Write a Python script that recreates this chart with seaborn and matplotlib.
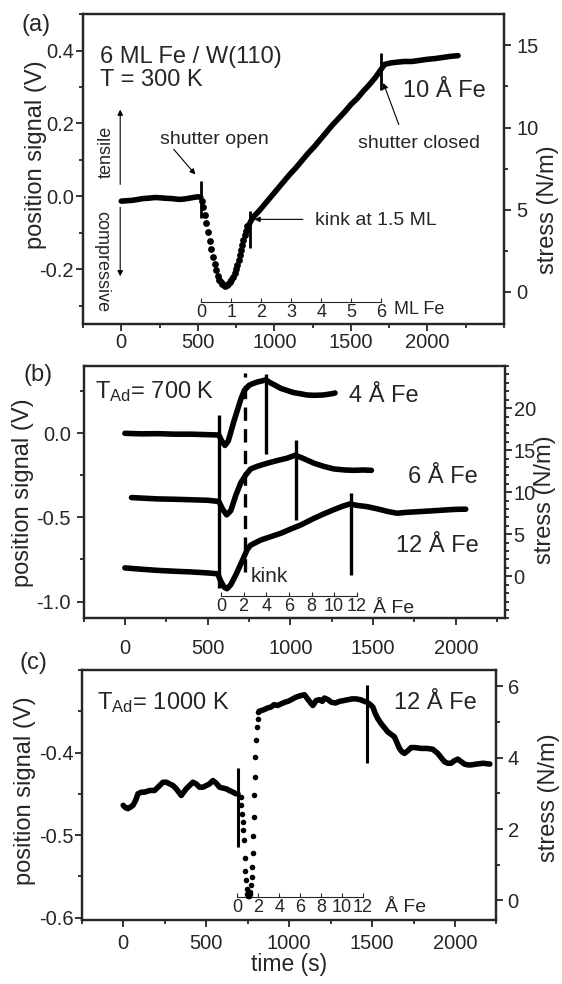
import matplotlib
matplotlib.use('Agg')
import matplotlib.pyplot as plt
import seaborn as sns
from matplotlib.ticker import MultipleLocator, FixedLocator

# ---- panel (a): 6 ML Fe / W(110), 300 K ----
a_t_pre = [0, 30, 67, 100, 140, 176, 220, 260, 285, 330, 370, 394, 430, 470, 502, 520]
a_v_pre = [-0.013, -0.012, -0.011, -0.009, -0.006, -0.005, -0.003, -0.004, -0.005, -0.006,
           -0.008, -0.008, -0.006, -0.003, -0.001, -0.003]
a_t_dip = [528, 536, 545, 555, 566, 577, 588, 599, 610, 620, 630, 640, 650, 660, 670, 680, 690,
           700, 710, 720, 730, 740, 750, 758, 766, 774, 782, 790, 798, 806, 814, 822]
a_v_dip = [-0.012, -0.030, -0.050, -0.073, -0.097, -0.121, -0.145, -0.167, -0.186, -0.203,
           -0.217, -0.228, -0.236, -0.241, -0.244, -0.245, -0.244, -0.241, -0.236, -0.229,
           -0.221, -0.211, -0.199, -0.188, -0.175, -0.162, -0.148, -0.134, -0.120, -0.107,
           -0.094, -0.082]
a_t_post = [826, 850, 870, 900, 940, 980, 1020, 1060, 1100, 1140, 1180, 1220, 1260, 1300, 1340,
            1380, 1420, 1460, 1500, 1540, 1580, 1620, 1660, 1700, 1720, 1760, 1800, 1850, 1900,
            1950, 2000, 2050, 2100, 2150, 2200]
a_v_post = [-0.085, -0.065, -0.053, -0.040, -0.020, 0.000, 0.020, 0.040, 0.060, 0.078, 0.098,
            0.118, 0.136, 0.156, 0.176, 0.196, 0.214, 0.232, 0.252, 0.268, 0.288, 0.306, 0.326,
            0.350, 0.362, 0.366, 0.368, 0.370, 0.370, 0.373, 0.376, 0.378, 0.381, 0.384, 0.386]
a_mark_t = [520, 840, 1698]
a_mark_top = [0.042, -0.040, 0.392]
a_mark_bot = [-0.058, -0.141, 0.293]
a_ml_ticks = [0, 1, 2, 3, 4, 5, 6]

# ---- panel (b): T_Ad = 700 K ----
b4_t = [0, 100, 200, 300, 400, 500, 568, 585, 605, 625, 660, 700, 722, 750, 772, 800, 830, 852,
        880, 910, 943, 980, 1020, 1063, 1100, 1144, 1200, 1254, 1270]
b4_v = [0.0, -0.003, -0.002, -0.005, -0.005, -0.008, -0.010, -0.045, -0.072, -0.045, 0.075,
        0.200, 0.255, 0.285, 0.295, 0.305, 0.312, 0.318, 0.300, 0.285, 0.267, 0.255, 0.242,
        0.235, 0.228, 0.226, 0.228, 0.236, 0.240]
b6_t = [40, 100, 200, 300, 400, 500, 568, 590, 615, 640, 670, 700, 730, 760, 800, 860, 920, 980,
        1030, 1080, 1144, 1200, 1264, 1330, 1385, 1440, 1490]
b6_v = [-0.382, -0.385, -0.390, -0.392, -0.395, -0.398, -0.405, -0.450, -0.485, -0.460, -0.370,
        -0.295, -0.248, -0.212, -0.196, -0.178, -0.162, -0.148, -0.130, -0.150, -0.178, -0.196,
        -0.212, -0.218, -0.220, -0.218, -0.220]
b12_t = [0, 100, 200, 300, 400, 500, 561, 580, 600, 617, 640, 671, 712, 740, 760, 790, 822, 880,
         943, 1000, 1063, 1144, 1200, 1260, 1320, 1360, 1400, 1465, 1530, 1590, 1646, 1700,
         1787, 1870, 1948, 2000, 2060]
b12_v = [-0.800, -0.808, -0.815, -0.820, -0.824, -0.830, -0.835, -0.880, -0.915, -0.924, -0.900,
         -0.841, -0.752, -0.690, -0.665, -0.650, -0.634, -0.615, -0.594, -0.570, -0.545, -0.505,
         -0.480, -0.455, -0.432, -0.420, -0.428, -0.436, -0.450, -0.465, -0.475, -0.470, -0.465,
         -0.460, -0.455, -0.452, -0.451]
b_mark_t = [568, 852, 1033, 1368]
b_mark_top = [0.109, 0.350, -0.040, -0.356]
b_mark_bot = [-0.920, -0.125, -0.515, -0.841]
b_dash_t = 728
b_dash_top, b_dash_bot = 0.358, -0.822
b_ang_ticks = [0, 2, 4, 6, 8, 10, 12]

# ---- panel (c): T_Ad = 1000 K ----
c_t_pre = [0, 15, 29, 45, 59, 75, 89, 110, 129, 160, 189, 215, 240, 260, 280, 300, 320, 335,
           350, 365, 380, 400, 420, 440, 460, 480, 501, 520, 541, 560, 581, 600, 621, 640, 661,
           680, 692]
c_v_pre = [-0.464, -0.467, -0.468, -0.466, -0.464, -0.458, -0.450, -0.448, -0.448, -0.446,
           -0.446, -0.441, -0.436, -0.436, -0.438, -0.440, -0.444, -0.448, -0.452, -0.448,
           -0.444, -0.440, -0.436, -0.438, -0.442, -0.442, -0.440, -0.438, -0.434, -0.437,
           -0.442, -0.443, -0.444, -0.446, -0.448, -0.450, -0.450]
c_t_dip = [708, 712, 716, 720, 724, 728, 732, 736, 740, 744, 748, 752, 756, 762, 767, 771, 775,
           778, 781, 784, 787, 790, 793, 796, 800, 805, 810, 815]
c_v_dip = [-0.454, -0.464, -0.474, -0.484, -0.494, -0.506, -0.528, -0.543, -0.555, -0.565,
           -0.571, -0.574, -0.574, -0.572, -0.569, -0.561, -0.551, -0.539, -0.522, -0.501,
           -0.478, -0.452, -0.430, -0.405, -0.385, -0.369, -0.359, -0.351]
c_t_post = [820, 835, 850, 870, 890, 910, 930, 952, 975, 993, 1013, 1040, 1070, 1093, 1115,
            1143, 1163, 1183, 1200, 1213, 1235, 1254, 1280, 1304, 1330, 1354, 1380, 1404, 1430,
            1454, 1470, 1490, 1505, 1520, 1535, 1555, 1575, 1595, 1615, 1635, 1650, 1665, 1680,
            1695, 1715, 1735, 1760, 1796, 1830, 1866, 1896, 1916, 1936, 1956, 1976, 1996, 2017,
            2037, 2057, 2077, 2097, 2130, 2170, 2210]
c_v_post = [-0.350, -0.349, -0.348, -0.346, -0.345, -0.342, -0.343, -0.341, -0.339, -0.338,
            -0.336, -0.333, -0.331, -0.330, -0.336, -0.343, -0.337, -0.336, -0.338, -0.334,
            -0.336, -0.339, -0.340, -0.338, -0.337, -0.336, -0.335, -0.335, -0.336, -0.338,
            -0.339, -0.342, -0.345, -0.353, -0.359, -0.365, -0.370, -0.375, -0.378, -0.381,
            -0.388, -0.395, -0.399, -0.401, -0.398, -0.394, -0.394, -0.395, -0.395, -0.396,
            -0.401, -0.406, -0.411, -0.413, -0.413, -0.410, -0.408, -0.411, -0.414, -0.415,
            -0.415, -0.414, -0.413, -0.414]
c_mark_t = [691, 1470]
c_mark_top = [-0.419, -0.318]
c_mark_bot = [-0.514, -0.413]
c_ang_ticks = [0, 2, 4, 6, 8, 10, 12]

sns.set_style('ticks')
plt.rcParams['font.family'] = ['Liberation Sans', 'DejaVu Sans']
plt.rcParams['mathtext.fontset'] = 'custom'
plt.rcParams['mathtext.rm'] = 'Liberation Sans'
plt.rcParams['mathtext.it'] = 'Liberation Sans:italic'
plt.rcParams['axes.unicode_minus'] = False
plt.rcParams['axes.linewidth'] = 1.6

fig = plt.figure(figsize=(5.62, 9.84), dpi=100)
ax_a = fig.add_axes([0.1477, 0.6707, 0.749, 0.315])
ax_b = fig.add_axes([0.1486, 0.3716, 0.7507, 0.2564])
ax_c = fig.add_axes([0.1454, 0.0650, 0.7380, 0.2541])

TICK = 14.5
BIG = 17
SMALL = 14


def style(ax, xlim, ylim, yticks, yminor, ylim2, yticks2, yminor2, xpad, lpad, rpad,
          lab_l, lab_r):
    ax.set_xlim(*xlim)
    ax.set_ylim(*ylim)
    ax.xaxis.set_major_locator(FixedLocator([0, 500, 1000, 1500, 2000]))
    ax.xaxis.set_minor_locator(MultipleLocator(250))
    ax.yaxis.set_major_locator(FixedLocator(yticks))
    ax.yaxis.set_minor_locator(MultipleLocator(yminor))
    ax.tick_params(which='both', direction='out', top=False, right=False, width=1.3,
                   labelsize=TICK)
    ax.tick_params(which='major', length=5)
    ax.tick_params(which='minor', length=3)
    ax.tick_params(axis='x', pad=xpad)
    ax.tick_params(axis='y', pad=lpad)
    ax.set_ylabel('position signal (V)', fontsize=17)
    ax.yaxis.set_label_coords(*lab_l)
    ax2 = ax.twinx()
    ax2.set_ylim(*ylim2)
    ax2.yaxis.set_major_locator(FixedLocator(yticks2))
    ax2.yaxis.set_minor_locator(MultipleLocator(yminor2))
    ax2.tick_params(which='both', direction='out', width=1.3, labelsize=TICK, pad=rpad)
    ax2.tick_params(which='major', length=5)
    ax2.tick_params(which='minor', length=3)
    ax2.set_ylabel('stress (N/m)', fontsize=17)
    ax2.yaxis.set_label_coords(*lab_r)
    for s in ax.spines.values():
        s.set_linewidth(1.6)
    return ax2


def thickness_axis(ax, loc, t0, rate, ticks, lo, hi):
    sec = ax.secondary_xaxis(loc, functions=(lambda t: (t - t0) / rate,
                                             lambda d: t0 + d * rate))
    sec.set_xticks(ticks)
    sec.tick_params(direction='in', length=3, width=0.8, pad=1.5, labelsize=13)
    sec.spines['bottom'].set_bounds(lo, hi)
    sec.spines['bottom'].set_linewidth(0.8)
    return sec


def trace(ax, t, v, lw=4.0):
    sns.lineplot(x=t, y=v, ax=ax, color='black', lw=lw, estimator=None,
                 solid_capstyle='round', solid_joinstyle='round')


def dots(ax, t, v, s=15):
    sns.scatterplot(x=t, y=v, ax=ax, color='black', s=s, linewidth=0)


# ---------- (a) ----------
style(ax_a, (-250, 2500), (-0.35, 0.5), [-0.2, 0.0, 0.2, 0.4], 0.1,
      (-1.95, 16.9), [0, 5, 10, 15], 2.5, 1.5, 1.5, 4,
      (-0.0855, 0.545), (1.078, 0.368))
trace(ax_a, a_t_pre, a_v_pre)
dots(ax_a, a_t_dip, a_v_dip, 24)
trace(ax_a, a_t_post, a_v_post)
ax_a.vlines(a_mark_t, a_mark_bot, a_mark_top, color='black', lw=2)
thickness_axis(ax_a, 0.0706, 522, 196, a_ml_ticks, 0, 6)

ax_a.text(0.040, 0.861, '6 ML Fe / W(110)', transform=ax_a.transAxes, fontsize=BIG, va='center')
ax_a.text(0.040, 0.787, 'T = 300 K', transform=ax_a.transAxes, fontsize=BIG, va='center')
ax_a.text(0.760, 0.752, '10 Å Fe', transform=ax_a.transAxes, fontsize=BIG, va='center')
ax_a.text(0.183, 0.594, 'shutter open', transform=ax_a.transAxes, fontsize=SMALL, va='center')
ax_a.text(0.653, 0.584, 'shutter closed', transform=ax_a.transAxes, fontsize=SMALL, va='center')
ax_a.text(0.551, 0.335, 'kink at 1.5 ML', transform=ax_a.transAxes, fontsize=SMALL, va='center')
ax_a.text(0.056, 0.555, 'tensile', transform=ax_a.transAxes, fontsize=13, rotation=90,
          ha='center', va='center')
ax_a.text(0.045, 0.203, 'compressive', transform=ax_a.transAxes, fontsize=13, rotation=270,
          ha='center', va='center')
ax_a.text(0.739, 0.019, 'ML Fe', transform=ax_a.transAxes, fontsize=13, va='bottom')

arr = dict(arrowstyle='-|>', lw=0.8, color='black', mutation_scale=8, shrinkA=0, shrinkB=0)
ax_a.annotate('', xy=(-7, 0.238), xytext=(-7, 0.033), arrowprops=arr)
ax_a.annotate('', xy=(-7, -0.219), xytext=(-7, -0.030), arrowprops=arr)
ax_a.annotate('', xy=(484, 0.060), xytext=(343, 0.129), arrowprops=arr)
ax_a.annotate('', xy=(1712, 0.311), xytext=(1813, 0.197), arrowprops=arr)
ax_a.annotate('', xy=(870, -0.063), xytext=(1186, -0.063), arrowprops=arr)

# ---------- (b) ----------
style(ax_b, (-250, 2300), (-1.1, 0.4), [-1.0, -0.5, 0.0], 0.25,
      (-5, 25), [0, 5, 10, 15, 20], 1, 10, 4, 1,
      (-0.117, 0.5), (1.068, 0.469))
trace(ax_b, b4_t, b4_v)
trace(ax_b, b6_t, b6_v)
trace(ax_b, b12_t, b12_v)
ax_b.vlines(b_mark_t, b_mark_bot, b_mark_top, color='black', lw=2.4)
ax_b.vlines([b_dash_t], [b_dash_bot], [b_dash_top], color='black', lw=2.4,
            linestyles=(0, (4, 2.5)))
thickness_axis(ax_b, 0.089, 580, 68.5, b_ang_ticks, 0, 12)

ax_b.text(0.027, 0.873, r'T$_{\rm Ad}$= 700 K', transform=ax_b.transAxes, fontsize=BIG,
          va='baseline')
ax_b.text(0.629, 0.859, '4 Å Fe', transform=ax_b.transAxes, fontsize=BIG, va='baseline')
ax_b.text(0.769, 0.535, '6 Å Fe', transform=ax_b.transAxes, fontsize=BIG, va='baseline')
ax_b.text(0.741, 0.264, '12 Å Fe', transform=ax_b.transAxes, fontsize=BIG, va='baseline')
ax_b.text(0.397, 0.145, 'kink', transform=ax_b.transAxes, fontsize=15, va='baseline')
ax_b.text(0.686, 0.020, 'Å Fe', transform=ax_b.transAxes, fontsize=14, va='baseline')

# ---------- (c) ----------
style(ax_c, (-250, 2250), (-0.603, -0.3), [-0.6, -0.5, -0.4], 0.05,
      (-0.55, 6.46), [0, 2, 4, 6], 1, 5, 0.5, 3,
      (-0.110, 0.517), (1.100, 0.49))
trace(ax_c, c_t_pre, c_v_pre)
dots(ax_c, c_t_dip, c_v_dip, 16)
trace(ax_c, c_t_post, c_v_post)
ax_c.vlines(c_mark_t, c_mark_bot, c_mark_top, color='black', lw=2.2)
thickness_axis(ax_c, 0.092, 688, 63, c_ang_ticks, 0, 12)

ax_c.text(0.037, 0.843, r'T$_{\rm Ad}$= 1000 K', transform=ax_c.transAxes, fontsize=BIG,
          va='baseline')
ax_c.text(0.754, 0.843, '12 Å Fe', transform=ax_c.transAxes, fontsize=BIG, va='baseline')
ax_c.text(0.732, 0.033, 'Å Fe', transform=ax_c.transAxes, fontsize=14, va='baseline')
ax_c.set_xlabel('time (s)', fontsize=16.5, labelpad=0)

fig.text(0.039, 0.9746, '(a)', fontsize=17, va='center')
fig.text(0.041, 0.619, '(b)', fontsize=17, va='center')
fig.text(0.035, 0.326, '(c)', fontsize=17, va='center')

fig.savefig('out.png', dpi=100)
